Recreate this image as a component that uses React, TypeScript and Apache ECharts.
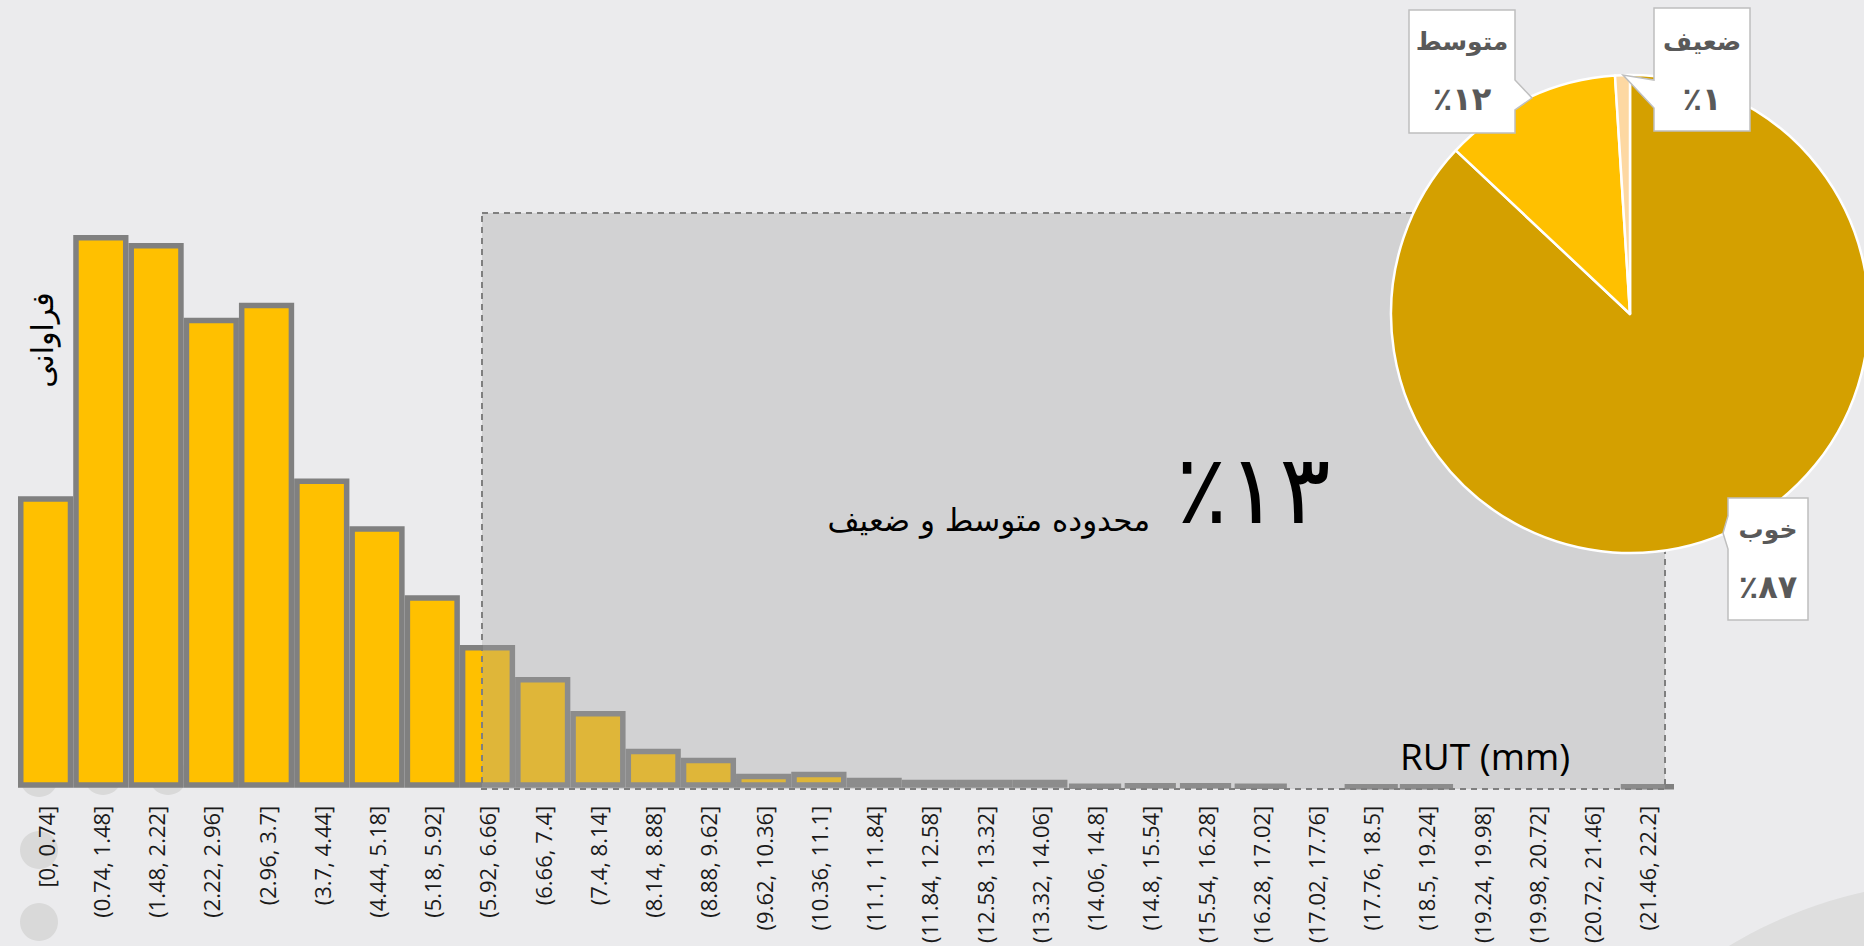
import React, { useEffect, useRef } from "react";
import * as echarts from "echarts";

// ---------- data ----------
const categories = [
  "[0, 0.74]", "(0.74, 1.48]", "(1.48, 2.22]", "(2.22, 2.96]", "(2.96, 3.7]",
  "(3.7, 4.44]", "(4.44, 5.18]", "(5.18, 5.92]", "(5.92, 6.66]", "(6.66, 7.4]",
  "(7.4, 8.14]", "(8.14, 8.88]", "(8.88, 9.62]", "(9.62, 10.36]", "(10.36, 11.1]",
  "(11.1, 11.84]", "(11.84, 12.58]", "(12.58, 13.32]", "(13.32, 14.06]", "(14.06, 14.8]",
  "(14.8, 15.54]", "(15.54, 16.28]", "(16.28, 17.02]", "(17.02, 17.76]", "(17.76, 18.5]",
  "(18.5, 19.24]", "(19.24, 19.98]", "(19.98, 20.72]", "(20.72, 21.46]", "(21.46, 22.2]",
];
const frequencies = [
  292, 554, 546, 471, 486, 310, 262, 193, 143, 111,
  77, 39, 30, 14, 16, 10, 8, 8, 8, 3,
  4, 4, 3, 0, 2, 2, 0, 0, 0, 2,
];
const pieNames = ["خوب", "متوسط", "ضعیف"];
const pieValues = [87, 12, 1];
const pieColors = ["#D4A000", "#FFC000", "#FDD8A2"];
const yAxisTitle = "فراوانی";
const xAxisTitle = "RUT (mm)";
const shadedTitle = "محدوده متوسط و ضعیف";

// ---------- helpers ----------
const faDigits = "۰۱۲۳۴۵۶۷۸۹";
const toFa = (n: number) => String(n).replace(/\d/g, (d) => faDigits[+d]);
const faPercent = (n: number) => "٪" + toFa(n);

// label layout (positions, not data)
const pieLabelPos: [number, number][] = [
  [1768, 558],
  [1462, 70],
  [1702, 70],
];
const calloutShapes: [number, number][][] = [
  [[1728, 498], [1808, 498], [1808, 620], [1728, 620], [1728, 549], [1723, 533], [1728, 516]],
  [[1409, 10], [1515, 10], [1515, 80], [1532, 98], [1515, 110], [1515, 133], [1409, 133]],
  [[1654, 8], [1750, 8], [1750, 131], [1654, 131], [1654, 108], [1623, 75], [1654, 80]],
];

export default function App() {
  const ref = useRef<HTMLDivElement>(null);

  useEffect(() => {
    if (!ref.current) return;
    const chart = echarts.init(ref.current, null, { renderer: "svg" });
    const arFont = "DejaVu Sans";

    const option: any = {
      animation: false,
      backgroundColor: "#EBEBED",
      grid: { left: 18, right: 189, top: 189, bottom: 157, containLabel: false },
      xAxis: {
        type: "category",
        data: categories,
        boundaryGap: true,
        axisLine: { show: false },
        axisTick: { show: false },
        splitLine: { show: false },
        axisLabel: {
          interval: 0,
          rotate: 90,
          margin: 18,
          fontSize: 22,
          fontFamily: "Open Sans",
          color: "#1a1a1a",
        },
      },
      yAxis: {
        type: "value",
        min: 0,
        max: 600,
        show: false,
      },
      series: [
        {
          type: "bar",
          z: 2,
          data: frequencies.map((v) => (v === 0 ? "-" : v)),
          barCategoryGap: "0%",
          itemStyle: { color: "#FFC000", borderColor: "#808080", borderWidth: 5.5 },
          silent: true,
        },
        {
          type: "pie",
          z: 6,
          center: [1630, 314],
          radius: 239,
          startAngle: 90,
          clockwise: true,
          silent: true,
          label: { show: false },
          labelLine: { show: false },
          itemStyle: { borderColor: "#ffffff", borderWidth: 2.5 },
          data: pieNames.map((n, i) => ({ name: n, value: pieValues[i], itemStyle: { color: pieColors[i] } })),
        },
        {
          type: "pie",
          z: 8,
          center: [1630, 314],
          radius: 239,
          startAngle: 90,
          clockwise: true,
          silent: true,
          itemStyle: { color: "rgba(0,0,0,0)", borderWidth: 0 },
          labelLine: { show: false },
          label: {
            show: true,
            position: "outside",
            formatter: (p: any) => `{n|${p.name}}\n{p|${faPercent(p.value)}}`,
            rich: {
              n: { fontFamily: arFont, fontSize: 25, fontWeight: "bold", color: "#595959", lineHeight: 58, align: "center" },
              p: { fontFamily: arFont, fontSize: 32, fontWeight: "bold", color: "#595959", lineHeight: 58, align: "center" },
            },
          },
          labelLayout: (params: any) => {
            const pos = pieLabelPos[params.dataIndex];
            return { x: pos[0], y: pos[1], align: "center", verticalAlign: "middle" };
          },
          data: pieNames.map((n, i) => ({ name: n, value: pieValues[i] })),
        },
      ],
      graphic: [
        // decorative dots
        { type: "circle", z: 0, shape: { cx: 39, cy: 778, r: 19 }, style: { fill: "#D9D9D9" } },
        { type: "circle", z: 0, shape: { cx: 103, cy: 776, r: 19 }, style: { fill: "#D9D9D9" } },
        { type: "circle", z: 0, shape: { cx: 168, cy: 776, r: 19 }, style: { fill: "#D9D9D9" } },
        { type: "circle", z: 0, shape: { cx: 39, cy: 850, r: 19 }, style: { fill: "#D9D9D9" } },
        { type: "circle", z: 0, shape: { cx: 39, cy: 922, r: 19 }, style: { fill: "#D9D9D9" } },
        { type: "circle", z: 0, shape: { cx: 1958, cy: 1324, r: 442 }, style: { fill: "#DEDEDE" } },
        // shaded region overlay
        {
          type: "rect",
          z: 5,
          shape: { x: 482, y: 213, width: 1183, height: 576 },
          style: { fill: "rgba(164,164,164,0.35)", stroke: "#7F7F7F", lineWidth: 2, lineDash: [6, 5] },
        },
        // callouts
        ...calloutShapes.map((pts) => ({
          type: "polygon",
          z: 7,
          shape: { points: pts },
          style: { fill: "#FFFFFF", stroke: "#BFBFBF", lineWidth: 1.5 },
        })),
        // texts
        {
          type: "text",
          z: 9,
          x: 42,
          y: 340,
          rotation: Math.PI / 2,
          style: { text: yAxisTitle, fontFamily: arFont, fontSize: 30, fill: "#000", align: "center", verticalAlign: "middle" },
        },
        {
          type: "text",
          z: 9,
          x: 1400,
          y: 755,
          style: { text: xAxisTitle, fontFamily: "Open Sans", fontSize: 37, fill: "#000", align: "left", verticalAlign: "middle" },
        },
        {
          type: "text",
          z: 9,
          x: 1150,
          y: 520,
          style: { text: shadedTitle, fontFamily: arFont, fontSize: 31, fill: "#000", align: "right", verticalAlign: "middle" },
        },
        {
          type: "text",
          z: 9,
          x: 1176,
          y: 490,
          style: {
            text: faPercent(pieValues[1] + pieValues[2]),
            fontFamily: arFont,
            fontSize: 96,
            fill: "#000",
            align: "left",
            verticalAlign: "middle",
          },
        },
      ],
    };

    chart.setOption(option);
    return () => chart.dispose();
  }, []);

  return (
    <div
      ref={ref}
      style={{ position: "fixed", left: 0, top: 0, width: 1864, height: 946, background: "#EBEBED" }}
    />
  );
}
